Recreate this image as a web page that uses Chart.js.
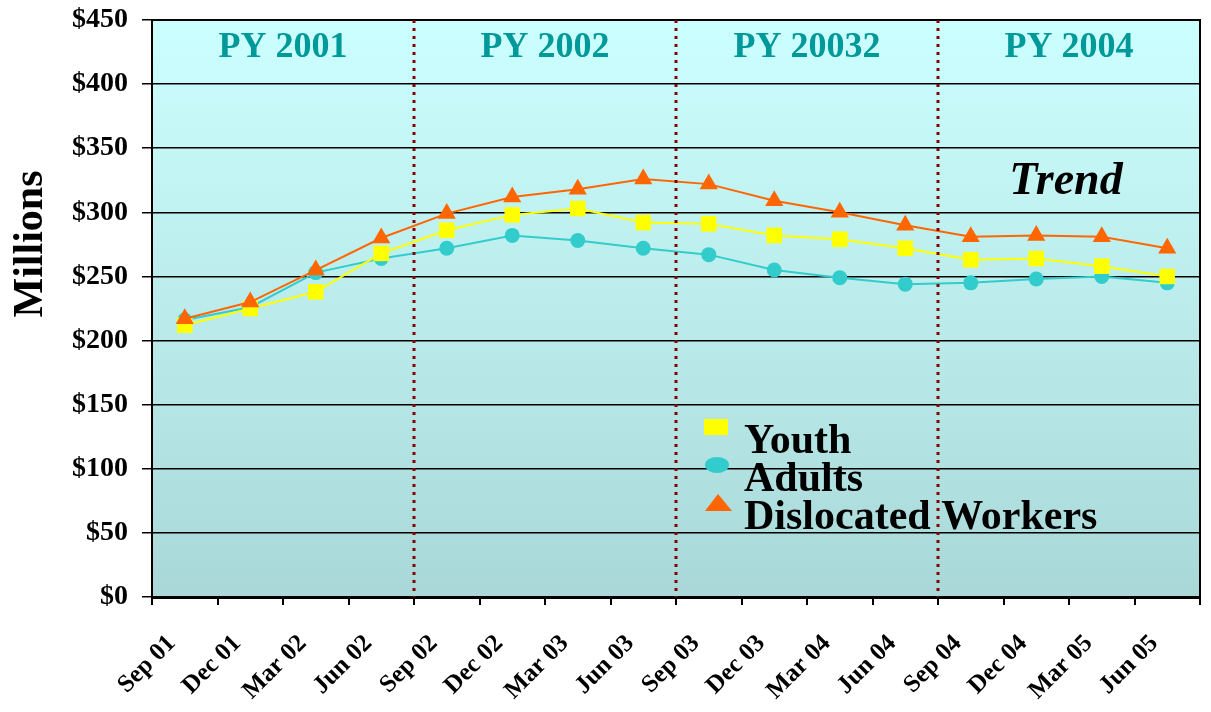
<!DOCTYPE html>
<html>
<head>
<meta charset="utf-8">
<script src="https://cdn.jsdelivr.net/npm/chart.js@4.4.1/dist/chart.umd.min.js"></script>
<style>
  body { margin: 0; background: #fff; }
  #wrap { width: 1211px; height: 712px; }
</style>
</head>
<body>
<div id="wrap"><canvas id="trendChart"></canvas></div>
<script>
const labels = ['Sep 01', 'Dec 01', 'Mar 02', 'Jun 02', 'Sep 02', 'Dec 02', 'Mar 03', 'Jun 03',
  'Sep 03', 'Dec 03', 'Mar 04', 'Jun 04', 'Sep 04', 'Dec 04', 'Mar 05', 'Jun 05'];
const youth = [212, 225, 238, 268, 286, 298, 303, 292, 291, 282, 279, 272, 263, 264, 258, 250];
const adults = [216, 226, 253, 264, 272, 282, 278, 272, 267, 255, 249, 244, 245, 248, 250, 245];
const dislocated = [217, 230, 255, 280, 299, 312, 318, 326, 322, 309, 300, 290, 281, 282, 281, 272];
const periodNames = ['PY 2001', 'PY 2002', 'PY 20032', 'PY 2004'];
const periodStarts = [0, 4, 8, 12];

const serif = '"Liberation Serif", "Times New Roman", serif';

// background gradient, frame, period dividers and titles
const decorations = {
  id: 'decorations',
  beforeDraw(chart) {
    const { ctx, chartArea: a } = chart;
    const g = ctx.createLinearGradient(0, a.top, 0, a.bottom);
    g.addColorStop(0, '#ccffff');
    g.addColorStop(1, '#aad8d8');
    ctx.save();
    ctx.fillStyle = g;
    ctx.fillRect(a.left, a.top, a.right - a.left, a.bottom - a.top);
    ctx.restore();
  },
  afterDatasetsDraw(chart) {
    const { ctx, chartArea: a, scales } = chart;
    const x = scales.x;
    ctx.save();
    // frame top / right
    ctx.strokeStyle = '#000';
    ctx.lineWidth = 2;
    ctx.beginPath();
    ctx.moveTo(a.left, a.top);
    ctx.lineTo(a.right, a.top);
    ctx.lineTo(a.right, a.bottom);
    ctx.stroke();

    // dotted dividers between program years
    ctx.strokeStyle = '#800000';
    ctx.lineWidth = 3;
    ctx.setLineDash([3, 5]);
    periodStarts.slice(1).forEach(i => {
      const px = (x.getPixelForValue(i - 1) + x.getPixelForValue(i)) / 2;
      ctx.beginPath();
      ctx.moveTo(px, a.top);
      ctx.lineTo(px, a.bottom);
      ctx.stroke();
    });
    ctx.setLineDash([]);

    // period titles
    ctx.fillStyle = '#009999';
    ctx.font = 'bold 36px ' + serif;
    ctx.textAlign = 'center';
    ctx.textBaseline = 'alphabetic';
    periodNames.forEach((name, k) => {
      const first = periodStarts[k];
      const last = k + 1 < periodStarts.length ? periodStarts[k + 1] - 1 : labels.length - 1;
      const px = (x.getPixelForValue(first) + x.getPixelForValue(last)) / 2;
      ctx.fillText(name, px, 57);
    });

    // Trend
    ctx.fillStyle = '#000';
    ctx.font = 'italic bold 46px ' + serif;
    ctx.fillText('Trend', 1066, 194);

    // y title
    ctx.font = 'bold 42px ' + serif;
    ctx.translate(42, 244);
    ctx.rotate(-Math.PI / 2);
    ctx.fillText('Millions', 0, 0);
    ctx.restore();

    // legend
    ctx.save();
    const lx = 716;
    const rows = [453, 491, 529];
    ctx.font = 'bold 42px ' + serif;
    ctx.textAlign = 'left';
    chart.data.datasets.forEach((ds, i) => {
      const base = rows[i];
      ctx.fillStyle = ds.pointBackgroundColor;
      if (ds.pointStyle === 'rect') {
        ctx.fillRect(lx - 12, 419, 24, 16);
      } else if (ds.pointStyle === 'circle') {
        ctx.beginPath();
        ctx.ellipse(lx + 1, 465, 12, 8, 0, 0, Math.PI * 2);
        ctx.fill();
      } else {
        ctx.beginPath();
        ctx.moveTo(lx + 2, 494);
        ctx.lineTo(lx + 16, 511);
        ctx.lineTo(lx - 11, 511);
        ctx.closePath();
        ctx.fill();
      }
      ctx.fillStyle = '#000';
      ctx.fillText(ds.label, 744, base);
    });
    ctx.restore();
  }
};

new Chart(document.getElementById('trendChart'), {
  type: 'line',
  data: {
    labels: labels,
    datasets: [
      {
        label: 'Youth',
        data: youth,
        borderColor: '#ffff00',
        backgroundColor: '#ffff00',
        pointBackgroundColor: '#ffff00',
        pointBorderWidth: 0,
        pointStyle: 'rect',
        pointRadius: 11,
        borderWidth: 2,
        tension: 0,
        order: 2
      },
      {
        label: 'Adults',
        data: adults,
        borderColor: '#33cccc',
        backgroundColor: '#33cccc',
        pointBackgroundColor: '#33cccc',
        pointBorderWidth: 0,
        pointStyle: 'circle',
        pointRadius: 7.5,
        borderWidth: 2,
        tension: 0,
        order: 3
      },
      {
        label: 'Dislocated Workers',
        data: dislocated,
        borderColor: '#ff6600',
        backgroundColor: '#ff6600',
        pointBackgroundColor: '#ff6600',
        pointBorderWidth: 0,
        pointStyle: 'triangle',
        pointRadius: 10.5,
        borderWidth: 2,
        tension: 0,
        order: 1
      }
    ]
  },
  options: {
    responsive: true,
    maintainAspectRatio: false,
    animation: false,
    layout: { padding: { left: 0, top: 20, right: 8, bottom: 0 } },
    plugins: {
      legend: { display: false },
      tooltip: { enabled: false }
    },
    scales: {
      x: {
        offset: true,
        afterFit(scale) {
          scale.height = 115;
          scale.paddingLeft = 0;
          scale.paddingRight = 0;
        },
        grid: {
          offset: true,
          drawOnChartArea: false,
          drawTicks: true,
          tickLength: 8,
          color: '#000',
          lineWidth: 2
        },
        border: { color: '#000', width: 3 },
        ticks: {
          autoSkip: false,
          minRotation: 45,
          maxRotation: 45,
          labelOffset: -13,
          padding: 24,
          color: '#000',
          font: { family: serif, size: 25, weight: 'bold' }
        }
      },
      y: {
        min: 0,
        max: 450,
        afterFit(scale) {
          scale.width = 152;
          scale.paddingTop = 0;
          scale.paddingBottom = 0;
        },
        grid: {
          color: '#000',
          lineWidth: 1.5,
          tickLength: 10
        },
        border: { color: '#000', width: 2 },
        ticks: {
          stepSize: 50,
          padding: 14,
          color: '#000',
          font: { family: serif, size: 28, weight: 'bold' },
          callback: v => '$' + v
        }
      }
    }
  },
  plugins: [decorations]
});
</script>
</body>
</html>
